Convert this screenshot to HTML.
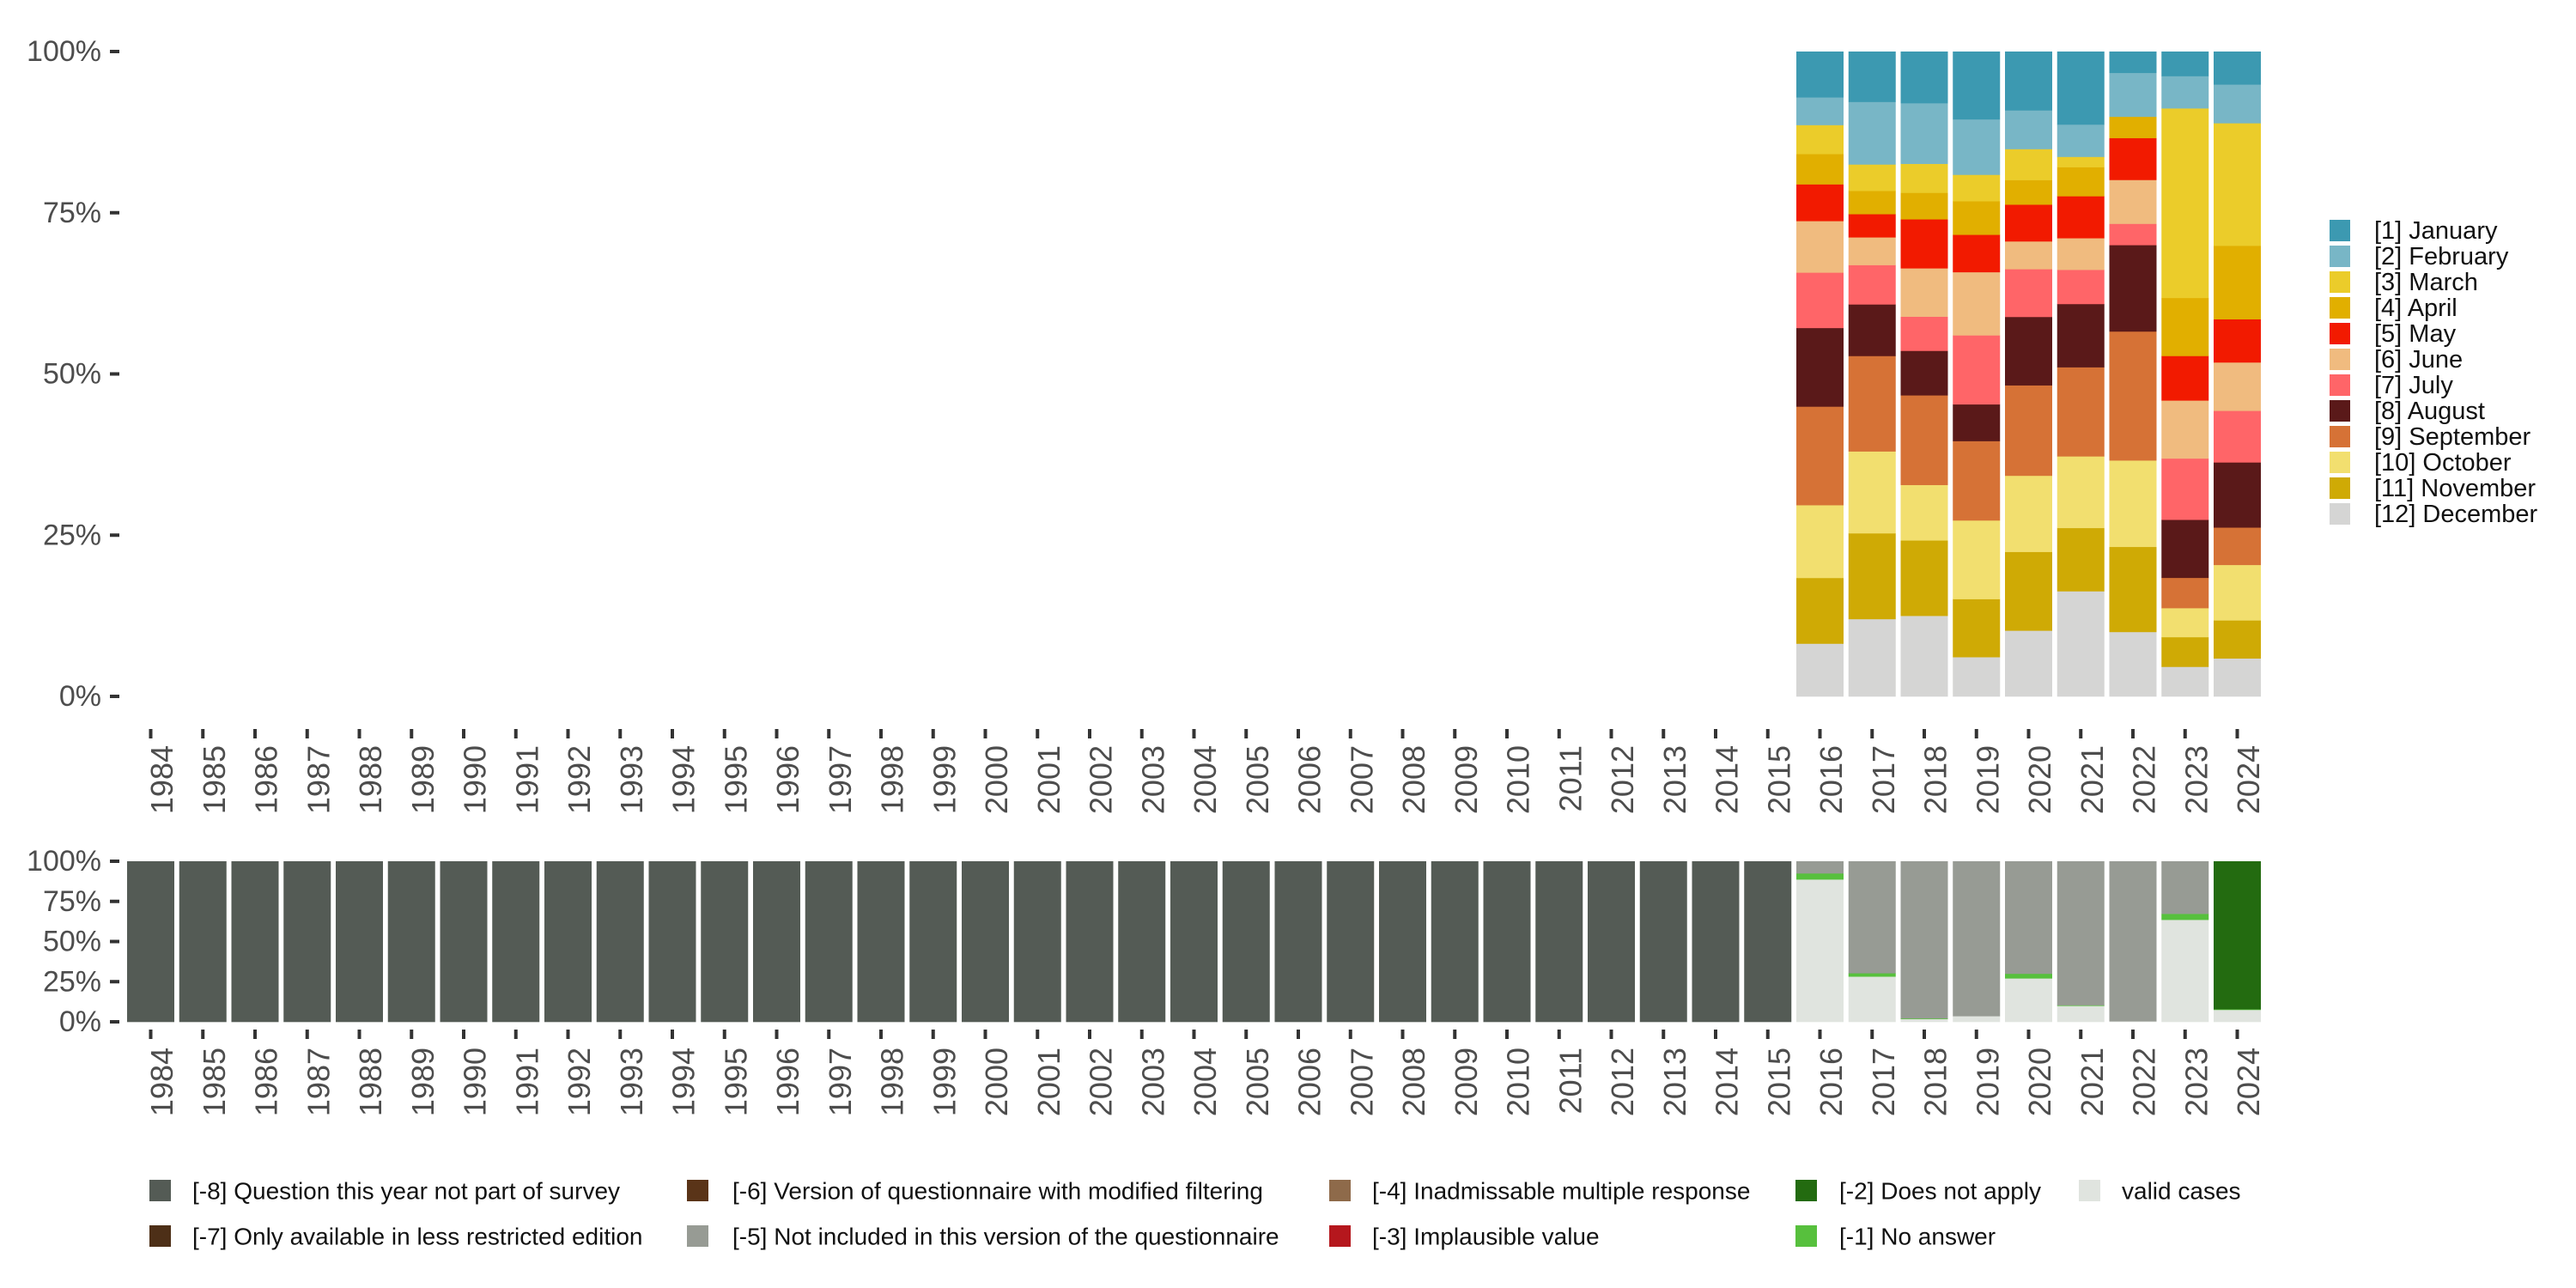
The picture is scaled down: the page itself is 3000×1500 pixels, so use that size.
<!DOCTYPE html>
<html><head><meta charset="utf-8">
<style>
html,body{margin:0;padding:0;background:#fff;}
svg{display:block;}
text{font-family:"Liberation Sans",sans-serif;}
</style></head>
<body>
<svg id="chart" width="3000" height="1500" viewBox="0 0 3000 1500" xmlns="http://www.w3.org/2000/svg">
<g id="top"></g>
<g id="bottom"></g>
<g id="legR"></g>
<g id="legB"></g>
</svg>
<script>
const years = [];
for (let y = 1984; y <= 2024; y++) years.push(String(y));
const monthYears = ["2016","2017","2018","2019","2020","2021","2022","2023","2024"];
const monthLabels = ["[1] January","[2] February","[3] March","[4] April","[5] May","[6] June","[7] July","[8] August","[9] September","[10] October","[11] November","[12] December"];
const monthColors = ["#3c99b1","#78b6c6","#ebcc2a","#e1af00","#f21a00","#f0bb7f","#ff6568","#5a1919","#d67236","#f2df6f","#cfaa05","#d5d5d4"];
// per year values for Jan..Dec (percent)
const m2016 = [7.1,4.3,4.5,4.7,5.7,8.0,8.6,12.2,15.3,11.3,10.2,8.2];
const m2017 = [7.8,9.7,4.1,3.6,3.6,4.3,6.1,8.0,14.8,12.7,13.3,12.0];
const m2018 = [8.0,9.4,4.5,4.1,7.6,7.5,5.3,6.9,13.9,8.6,11.7,12.5];
const m2019 = [10.5,8.6,4.1,5.2,5.8,9.8,10.7,5.7,12.3,12.2,9.0,6.1];
const m2020 = [9.1,6.0,4.8,3.8,5.7,4.3,7.4,10.6,14.0,11.8,12.2,10.2];
const m2021 = [11.3,5.0,1.6,4.5,6.5,4.9,5.3,9.8,13.8,11.1,9.8,16.3];
const m2022 = [3.3,6.8,0,3.3,6.5,6.8,3.3,13.4,20.0,13.4,13.2,10.0];
const m2023 = [3.8,5.0,29.4,9.0,6.9,9.0,9.5,9.0,4.7,4.5,4.6,4.6];
const m2024 = [5.1,6.0,19.0,11.4,6.7,7.5,8.0,10.1,5.8,8.6,5.9,5.9];
const monthSeries = [m2016,m2017,m2018,m2019,m2020,m2021,m2022,m2023,m2024];

const missLabels = ["[-8] Question this year not part of survey","[-7] Only available in less restricted edition","[-6] Version of questionnaire with modified filtering","[-5] Not included in this version of the questionnaire","[-4] Inadmissable multiple response","[-3] Implausible value","[-2] Does not apply","[-1] No answer","valid cases"];
const missColors = ["#545b55","#4d2f17","#5a3418","#979b94","#8e6a4a","#b5171d","#236b10","#57c03d","#e0e4df"];
const missNotSurveyed = years.map(y => +y <= 2015 ? 100 : 0);
const missNotIncluded = {"2016":7.5,"2017":69.6,"2018":97.9,"2019":96.4,"2020":70.0,"2021":89.6,"2022":99.6,"2023":32.7,"2024":0};
const missDoesNotApply = {"2024":92.1};
const missNoAnswer = {"2016":3.8,"2017":2.1,"2018":0.4,"2019":0,"2020":2.9,"2021":0.4,"2022":0,"2023":3.75,"2024":0.4};
const missValid = {"2016":88.7,"2017":28.2,"2018":1.8,"2019":3.6,"2020":27.1,"2021":10.0,"2022":0.4,"2023":63.6,"2024":7.5};
const pctTicks = [0,25,50,75,100];
const pctTickLabels = ["0%","25%","50%","75%","100%"];

const NS = "http://www.w3.org/2000/svg";
function mk(tag, attrs, parent){ const e=document.createElementNS(NS,tag); for(const k in attrs) e.setAttribute(k,attrs[k]); parent.appendChild(e); return e; }
const x = i => 175.5 + 60.75*i;
const BW = 55;
const yTop = v => 811 - v/100*751;
const yBot = v => 1190 - v/100*187;

function axes(g, yf, tickY0, labY0, nameP){
  pctTicks.forEach((v,i)=>{
    const t = mk('rect',{x:128,y:yf(v)-2,width:11,height:4,fill:'#333'},g);
    
    
    const l = mk('text',{x:118,y:yf(v),'text-anchor':'end','dominant-baseline':'central','font-size':34,fill:'#4d4d4d'},g);
    l.textContent = pctTickLabels[i];
    
    
  });
  years.forEach((yr,i)=>{
    const t = mk('rect',{x:x(i)-2,y:tickY0,width:4,height:11,fill:'#333'},g);
    
    
    const l = mk('text',{transform:`translate(${x(i)+13},${labY0}) rotate(-90)`,'text-anchor':'end','dominant-baseline':'central','font-size':36,fill:'#4d4d4d'},g);
    l.textContent = yr;
    
    
  });
}

const gT = document.getElementById('top');
monthYears.forEach((yr,j)=>{
  const vals = monthSeries[j];
  const sum = vals.reduce((a,b)=>a+b,0);
  const i = years.indexOf(yr);
  let cum = 0;
  for (let k = 11; k >= 0; k--) {
    const v = vals[k]/sum*100;
    if (v <= 0) continue;
    const r = mk('rect',{x:x(i)-BW/2,y:yTop(cum+v),width:BW,height:yTop(cum)-yTop(cum+v)+0.3,fill:monthColors[k]},gT);
    
    
    cum += v;
  }
});
axes(gT, yTop, 849, 868, 'top');

const gB = document.getElementById('bottom');
years.forEach((yr,i)=>{
  const parts = [
    [missValid[yr]||0, 8],
    [missNoAnswer[yr]||0, 7],
    [missDoesNotApply[yr]||0, 6],
    [missNotIncluded[yr]||0, 3],
    [missNotSurveyed[i], 0]
  ];
  const sum = parts.reduce((a,p)=>a+p[0],0);
  let cum = 0;
  parts.forEach(p=>{
    const v = p[0]/sum*100;
    if (v <= 0) return;
    const r = mk('rect',{x:x(i)-BW/2,y:yBot(cum+v),width:BW,height:yBot(cum)-yBot(cum+v)+0.3,fill:missColors[p[1]]},gB);
    
    
    cum += v;
  });
});
axes(gB, yBot, 1199, 1220, 'bottom');

const gR = document.getElementById('legR');
monthLabels.forEach((lab,k)=>{
  const y0 = 256 + k*30;
  const s = mk('rect',{x:2713,y:y0,width:24,height:25,fill:monthColors[k]},gR);
  
  
  const t = mk('text',{x:2765,y:y0+13,'dominant-baseline':'central','font-size':29,fill:'#111'},gR);
  t.textContent = lab;
  
  
});

const gL = document.getElementById('legB');
const colSq = [174,800,1548,2091,2421];
const colTx = [224,853,1598,2142,2471];
const rowY = [1374,1427];
missLabels.forEach((lab,k)=>{
  const c = Math.floor(k/2), r = k%2;
  const s = mk('rect',{x:colSq[c],y:rowY[r],width:25,height:25,fill:missColors[k]},gL);
  
  
  const t = mk('text',{x:colTx[c],y:rowY[r]+13,'dominant-baseline':'central','font-size':28,fill:'#111'},gL);
  t.textContent = lab;
  
  
});
</script>
</body></html>
